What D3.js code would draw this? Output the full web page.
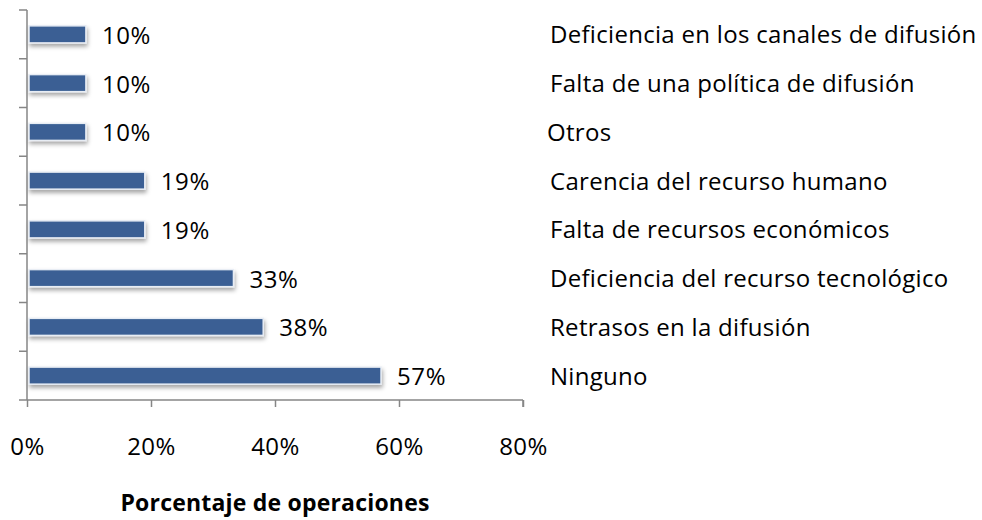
<!DOCTYPE html>
<html>
<head>
<meta charset="utf-8">
<script src="https://cdn.jsdelivr.net/npm/d3@7"></script>
<style>
  body { margin: 0; background: #fff; }
  text { font-family: "Open Sans", "Noto Sans", sans-serif; fill: #000; }
</style>
</head>
<body>
<div id="container"></div>
<script>
var categorias = [
    "Deficiencia en los canales de difusión",
    "Falta de una política de difusión",
    "Otros",
    "Carencia del recurso humano",
    "Falta de recursos económicos",
    "Deficiencia del recurso tecnológico",
    "Retrasos en la difusión",
    "Ninguno"
];
// porcentajes (las etiquetas muestran el valor redondeado)
var valores = [9.5, 9.5, 9.5, 19.0, 19.0, 33.3, 38.1, 57.1];
var ticksX = [0, 20, 40, 60, 80];

const W = 982, H = 520;
const plot = { left: 27, right: 523, top: 10, bottom: 400 };

var svg = d3.select("#container")
    .append("svg")
    .attr("width", W)
    .attr("height", H);

var defs = svg.append("defs");
var f = defs.append("filter").attr("id", "sombra")
    .attr("x", "-10%").attr("y", "-30%").attr("width", "130%").attr("height", "190%");
f.append("feDropShadow")
    .attr("dx", 1).attr("dy", 3).attr("stdDeviation", 2)
    .attr("flood-color", "#000").attr("flood-opacity", 0.35);

var x = d3.scaleLinear()
    .domain([0, 80])
    .range([plot.left, plot.right]);

var y = d3.scaleBand()
    .domain(categorias)
    .range([plot.top, plot.bottom])
    .paddingInner(0.65)
    .paddingOuter(0.325);

// barras
svg.selectAll("rect.barra")
    .data(valores)
    .enter()
    .append("rect")
    .attr("class", "barra")
    .attr("x", x(0) + 2)
    .attr("y", function (d, i) { return y(categorias[i]); })
    .attr("width", function (d) { return x(d) - x(0) - 2; })
    .attr("height", y.bandwidth())
    .attr("fill", "#3A5F94")
    .attr("stroke", "#e8edf4")
    .attr("stroke-width", 1.5)
    .attr("filter", "url(#sombra)");

// eje x
var xAxis = svg.append("g")
    .attr("transform", "translate(0," + plot.bottom + ")")
    .call(d3.axisBottom(x).tickValues(ticksX).tickSize(7).tickFormat(function (d) { return d + "%"; }));
xAxis.selectAll("path, line").attr("stroke", "#868686").attr("stroke-width", 1.5);
xAxis.select(".domain").attr("d", "M" + plot.left + ",0H" + plot.right + "M" + plot.right + ",0V7");
xAxis.selectAll("text")
    .attr("y", 55)
    .attr("dy", null)
    .attr("font-size", 24)
    .attr("letter-spacing", 0.4)
    .attr("fill", "#000");

// eje y (línea y marcas entre categorías)
var yTicks = d3.range(categorias.length + 1).map(function (i) {
    return plot.top + i * y.step();
});
var yAxis = svg.append("g");
yAxis.append("line")
    .attr("x1", plot.left).attr("x2", plot.left)
    .attr("y1", plot.top).attr("y2", plot.bottom)
    .attr("stroke", "#868686").attr("stroke-width", 1.5);
yAxis.selectAll("line.tick")
    .data(yTicks)
    .enter()
    .append("line")
    .attr("class", "tick")
    .attr("x1", plot.left - 8).attr("x2", plot.left)
    .attr("y1", function (d) { return d; })
    .attr("y2", function (d) { return d; })
    .attr("stroke", "#868686").attr("stroke-width", 1.5);

// etiquetas de valor
svg.selectAll("text.valor")
    .data(valores)
    .enter()
    .append("text")
    .attr("class", "valor")
    .attr("x", function (d) { return x(d) + 16; })
    .attr("y", function (d, i) { return y(categorias[i]) + y.bandwidth() / 2 + 9.5; })
    .attr("font-size", 24)
    .attr("letter-spacing", 0.6)
    .text(function (d) { return Math.round(d) + "%"; });

// nombres de categoría a la derecha
svg.selectAll("text.cat")
    .data(categorias)
    .enter()
    .append("text")
    .attr("class", "cat")
    .attr("x", function (d) { return d === "Otros" ? 547 : 550; })
    .attr("y", function (d) { return y(d) + y.bandwidth() / 2 + 9; })
    .attr("font-size", 24)
    .attr("letter-spacing", 0.3)
    .text(function (d) { return d; });

// título del eje
svg.append("text")
    .attr("x", 275)
    .attr("y", 511)
    .attr("text-anchor", "middle")
    .attr("font-size", 23)
    .attr("font-weight", "bold")
    .attr("letter-spacing", 0.2)
    .text("Porcentaje de operaciones");
</script>
</body>
</html>
